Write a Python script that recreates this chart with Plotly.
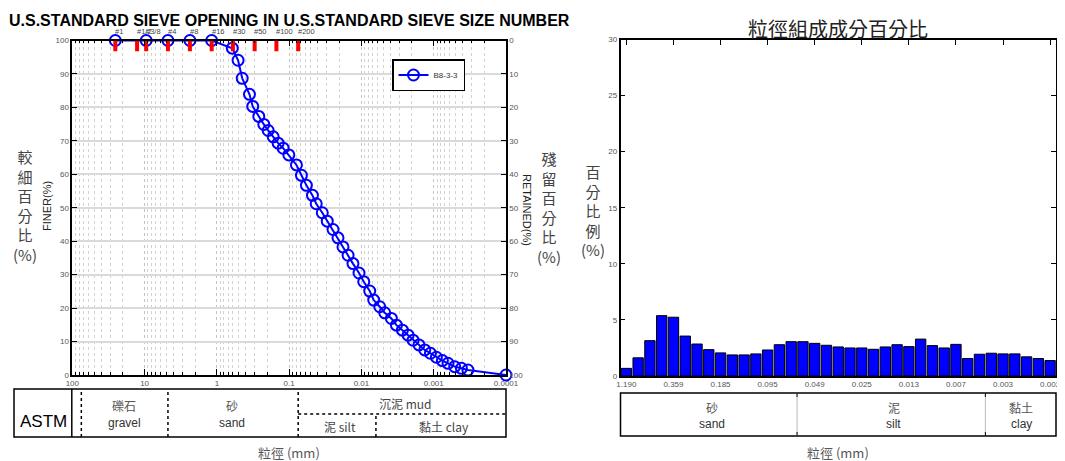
import math
import plotly.graph_objects as go

# page has an 8px body margin: the figure is offset by it
OFF = 8
W, H = 1065 - OFF, 461 - OFF

# ---------------- data ----------------
sieve_names = ["#1", "#1/2", "#3/8", "#4", "#8", "#16", "#30", "#50", "#100", "#200"]
sieve_mm = [25.4, 12.7, 9.5, 4.75, 2.36, 1.18, 0.6, 0.3, 0.15, 0.075]

grain_mm = [25.4, 9.5, 4.75, 2.36, 1.18, 0.612, 0.509, 0.446, 0.354, 0.319,
            0.263, 0.224, 0.195, 0.166, 0.142, 0.121, 0.101, 0.0793, 0.0676, 0.0577,
            0.0476, 0.0422, 0.0348, 0.0297, 0.0247, 0.0211, 0.0180, 0.0153, 0.0131, 0.0108,
            0.00929, 0.00768, 0.00676, 0.00558, 0.00476, 0.00385, 0.00328, 0.00271, 0.00226, 0.00193,
            0.00160, 0.00133, 0.00111, 0.000918, 0.000759, 0.000634, 0.000513, 0.000414, 0.000336, 0.0001]
finer_pct = [100, 100, 100, 100, 100, 97.7, 94.1, 88.7, 83.9, 80.3,
             77.3, 74.9, 73.1, 71.2, 69.3, 67.8, 65.8, 62.8, 59.7, 56.7,
             53.7, 51.2, 48.5, 46.0, 43.5, 41.0, 38.3, 35.8, 33.3, 30.5,
             27.9, 25.1, 22.4, 20.4, 18.6, 16.9, 14.9, 13.4, 11.9, 10.4,
             9.0, 7.5, 6.5, 5.3, 4.3, 3.5, 2.5, 2.0, 1.5, 0]
sample_name = "B8-3-3"

left_xtick_vals = [100, 10, 1, 0.1, 0.01, 0.001, 0.0001]
left_xtick_text = ["100", "10", "1", "0.1", "0.01", "0.001", "0.0001"]

bar_index = list(range(1, 38))
bar_pct = [0.68, 1.62, 3.15, 5.38, 5.24, 3.56, 2.85, 2.35, 2.06, 1.88,
           1.88, 1.97, 2.32, 2.79, 3.06, 3.06, 2.91, 2.74, 2.59, 2.50,
           2.50, 2.38, 2.59, 2.79, 2.62, 3.29, 2.71, 2.50, 2.82, 1.56,
           1.94, 2.03, 1.97, 1.97, 1.71, 1.56, 1.38]
bar_tick_index = [1, 5, 9, 13, 17, 21, 25, 29, 33, 37]
bar_tick_text = ["1.190", "0.359", "0.185", "0.095", "0.049", "0.025", "0.013", "0.007", "0.003", "0.002"]

# ASTM class boundaries (mm) for left table
astm_bounds_full = [75, 4.75, 0.075]
astm_silt_clay = 0.0063
# class boundaries (bar positions) for right table
hist_bounds = [15.5, 31.5]

# ---------------- helpers ----------------
def px(p):
    return (p - OFF) / W


def py(p):
    return 1 - (p - OFF) / H


LAT = "Liberation Sans, Arial, sans-serif"
CJK = "Noto Sans CJK TC, sans-serif"
TICKFONT = dict(family=LAT, size=8, color="#555")

fig = go.Figure()

# cumulative curve
fig.add_trace(go.Scatter(
    x=grain_mm, y=finer_pct, xaxis="x", yaxis="y", name=sample_name,
    mode="lines+markers", cliponaxis=False,
    line=dict(color="#0000ff", width=2),
    marker=dict(symbol="circle-open", size=11, color="#0000ff", line=dict(width=2, color="#0000ff")),
))

# sieve markers (red ticks at top)
sx, sy = [], []
for s in sieve_mm:
    sx += [s, s, None]
    sy += [100, 96.8, None]
fig.add_trace(go.Scatter(x=sx, y=sy, xaxis="x", yaxis="y", mode="lines",
                         line=dict(color="#ff0000", width=4), showlegend=False,
                         cliponaxis=False, hoverinfo="skip"))

# invisible helper trace for the right "retained" axis
fig.add_trace(go.Scatter(x=[1], y=[50], xaxis="x", yaxis="y2", mode="markers",
                         marker=dict(opacity=0), showlegend=False, hoverinfo="skip"))

# histogram
fig.add_trace(go.Bar(x=bar_index, y=bar_pct, xaxis="x2", yaxis="y3",
                     marker=dict(color="#0000ff", line=dict(color="black", width=1)),
                     showlegend=False))
fig.add_trace(go.Scatter(x=[1], y=[0], xaxis="x3", yaxis="y3", mode="markers",
                         marker=dict(opacity=0), showlegend=False, hoverinfo="skip"))

minor_vals = [m * 10 ** e for e in range(-4, 2) for m in range(2, 10)]

fig.update_layout(
    width=W, height=H, autosize=False,
    margin=dict(l=0, r=0, t=0, b=0, pad=0),
    paper_bgcolor="white", plot_bgcolor="white",
    bargap=0.12,
    xaxis=dict(type="log", range=[2, -4], domain=[px(72.3), px(506)], anchor="y", automargin=False,
               tickvals=left_xtick_vals, ticktext=left_xtick_text, tickfont=TICKFONT,
               ticks="inside", ticklen=6, tickcolor="black", tickwidth=1,
               showline=True, linecolor="black", linewidth=1.5, mirror="ticks",
               showgrid=True, gridcolor="#c4c4c4", griddash="dot", gridwidth=1,
               minor=dict(tickvals=minor_vals, ticks="inside", ticklen=3, tickcolor="black",
                          showgrid=True, gridcolor="#d2d2d2", griddash="dot", gridwidth=1),
               zeroline=False),
    yaxis=dict(domain=[py(375), py(40.5)], range=[0, 100], dtick=10, anchor="x", automargin=False,
               ticks="inside", ticklen=5, tickcolor="black", tickfont=TICKFONT,
               showline=True, linecolor="black", linewidth=1.5,
               showgrid=True, gridcolor="#dadada", gridwidth=1.5, zeroline=False),
    yaxis2=dict(overlaying="y", side="right", anchor="x", range=[100, 0], dtick=10, automargin=False,
                ticks="inside", ticklen=5, tickcolor="black", tickfont=TICKFONT,
                showline=True, linecolor="black", linewidth=1.5,
                showgrid=False, zeroline=False),
    xaxis2=dict(domain=[px(620.5), px(1056)], anchor="y3", range=[0.5, 37.5], automargin=False,
                tickvals=bar_tick_index, ticktext=bar_tick_text, tickfont=TICKFONT,
                ticks="", showline=True, linecolor="black", linewidth=1.5, mirror=True,
                showgrid=False, zeroline=False),
    xaxis3=dict(overlaying="x2", side="top", anchor="y3", range=[0.5, 37.5], automargin=False,
                tickvals=bar_tick_index, ticks="inside", ticklen=5, tickcolor="black",
                showticklabels=False, showgrid=False, zeroline=False, showline=False),
    yaxis3=dict(domain=[py(376), py(39.5)], anchor="x2", range=[0, 30], dtick=5, automargin=False,
                ticks="inside", ticklen=5, tickcolor="black", tickfont=TICKFONT,
                showline=True, linecolor="black", linewidth=1.5, mirror="ticks",
                showgrid=False, zeroline=False),
    legend=dict(x=px(392), y=py(59), xanchor="left", yanchor="top",
                bordercolor="black", borderwidth=1.5, bgcolor="white",
                font=dict(family=LAT, size=8, color="#333")),
)

shapes = []
blk = dict(color="black", width=1.5)
dot = dict(color="black", width=1.5, dash="dot")
# left table
shapes.append(dict(type="rect", xref="paper", yref="paper", x0=px(14), x1=px(506),
                   y0=py(437), y1=py(389), line=blk))
shapes.append(dict(type="line", xref="paper", yref="paper", x0=px(71.8), x1=px(71.8),
                   y0=py(437), y1=py(389), line=blk))
for b in astm_bounds_full:
    shapes.append(dict(type="line", xref="x", yref="paper", x0=b, x1=b,
                       y0=py(437), y1=py(389), line=dot))
shapes.append(dict(type="line", xref="x", yref="paper", x0=astm_bounds_full[-1], x1=0.0001,
                   y0=py(414), y1=py(414), line=dot))
shapes.append(dict(type="line", xref="x", yref="paper", x0=astm_silt_clay, x1=astm_silt_clay,
                   y0=py(437), y1=py(414), line=dot))
# right table
shapes.append(dict(type="rect", xref="paper", yref="paper", x0=px(620.5), x1=px(1056),
                   y0=py(436), y1=py(393), line=blk))
for b in hist_bounds:
    shapes.append(dict(type="line", xref="x2", yref="paper", x0=b, x1=b,
                       y0=py(436), y1=py(393), line=dict(color="#bbbbbb", width=1)))
    shapes.append(dict(type="line", xref="x2", yref="paper", x0=b, x1=b,
                       y0=py(397), y1=py(393), line=dict(color="black", width=1)))
    shapes.append(dict(type="line", xref="x2", yref="paper", x0=b, x1=b,
                       y0=py(436), y1=py(432), line=dict(color="black", width=1)))
fig.update_layout(shapes=shapes)

ann = []


def text(x, y, t, size, family=LAT, color="#222", angle=0, xanchor="center", bold=False, xref="paper"):
    ann.append(dict(x=x, y=y, xref=xref, yref="paper", text=("<b>%s</b>" % t) if bold else t,
                    showarrow=False, xanchor=xanchor, yanchor="middle", textangle=angle,
                    font=dict(family=family, size=size, color=color)))


# left chart texts
text(px(289), py(20), "U.S.STANDARD SIEVE OPENING IN U.S.STANDARD SIEVE SIZE NUMBER", 16,
     color="black", bold=True)
for name, s in zip(sieve_names, sieve_mm):
    text(math.log10(s) + 0.03, py(31), name, 7.5, color="#444", xanchor="left", xref="x")
text(px(25), py(205), "較<br>細<br>百<br>分<br>比<br>(%)", 15, family=CJK, color="#444")
text(px(47), py(206), "FINER(%)", 11, color="#222", angle=-90)
text(px(549), py(207), "殘<br>留<br>百<br>分<br>比<br>(%)", 15, family=CJK, color="#444")
text(px(527), py(210), "RETAINED(%)", 11, color="#222", angle=90)
text(px(43), py(421), "ASTM", 17, color="black")
text(px(124), py(405), "礫石", 12, family=CJK, color="#555")
text(px(124), py(423), "gravel", 12, color="#333")
text(px(232), py(405), "砂", 12, family=CJK, color="#555")
text(px(232), py(423), "sand", 12, color="#333")
text(px(405), py(403), "沉泥 mud", 12, family=CJK, color="#444")
text(px(340), py(426), "泥 silt", 12, family=CJK, color="#444")
text(px(444), py(426), "黏土 clay", 12, family=CJK, color="#444")
text(px(289), py(452), "粒徑 (mm)", 13, family=CJK, color="#555")

# right chart texts
text(px(838), py(28), "粒徑組成成分百分比", 20, family=CJK, color="#222")
text(px(593), py(210), "百<br>分<br>比<br>例<br>(%)", 15, family=CJK, color="#444")
text(px(712), py(407), "砂", 12, family=CJK, color="#555")
text(px(712), py(424), "sand", 12, color="#333")
text(px(894), py(407), "泥", 12, family=CJK, color="#555")
text(px(893), py(424), "silt", 12, color="#333")
text(px(1021), py(407), "黏土", 12, family=CJK, color="#555")
text(px(1021), py(424), "clay", 12, color="#333")
text(px(838), py(452), "粒徑 (mm)", 13, family=CJK, color="#555")

fig.update_layout(annotations=ann)

fig.write_html("out.html")
